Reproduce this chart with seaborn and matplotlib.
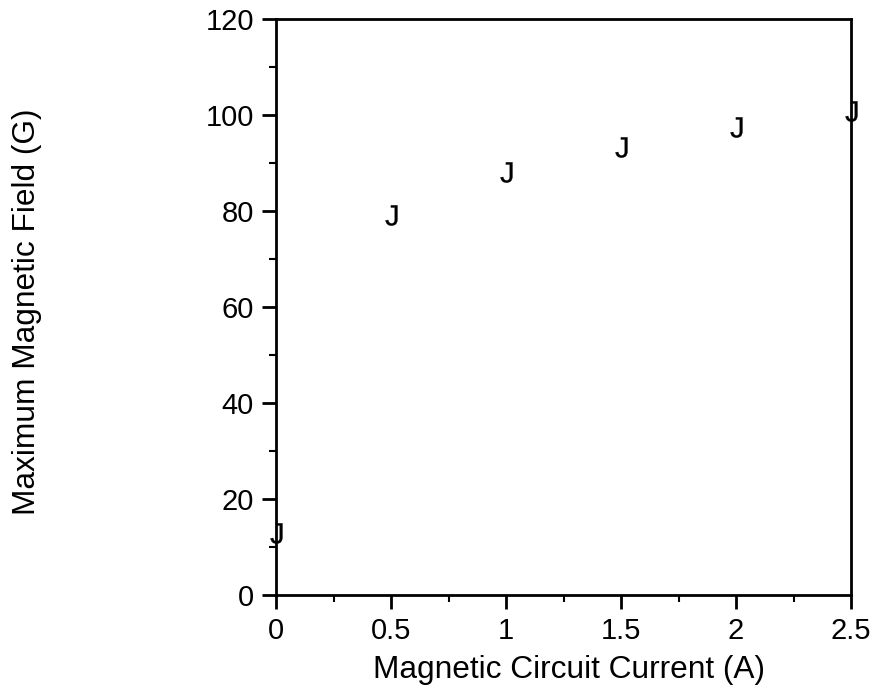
import matplotlib
matplotlib.use("Agg")
import matplotlib.pyplot as plt
import seaborn as sns
import pandas as pd
from matplotlib.ticker import MultipleLocator

current = [0.0, 0.5, 1.0, 1.5, 2.0, 2.5]
field = [12.9, 79.2, 88.2, 93.3, 97.5, 100.8]
x_ticks = [0, 0.5, 1, 1.5, 2, 2.5]
x_tick_labels = ["0", "0.5", "1", "1.5", "2", "2.5"]
y_ticks = [0, 20, 40, 60, 80, 100, 120]
y_tick_labels = ["0", "20", "40", "60", "80", "100", "120"]

sns.set_theme(style="white")
plt.rcParams['font.family'] = ['Liberation Sans', 'DejaVu Sans']
plt.rcParams['mathtext.fontset'] = 'custom'
plt.rcParams['mathtext.rm'] = 'Liberation Sans'

df = pd.DataFrame({"current": current, "field": field})

fig = plt.figure(figsize=(8.77, 6.91), dpi=100)
ax = fig.add_axes([276/877, 1-595/691, (851-276)/877, (595-19)/691])

sns.scatterplot(data=df, x="current", y="field", marker=r"$\mathrm{J}$",
                s=215, color="black", edgecolor="black", linewidth=0.2,
                ax=ax, clip_on=False, legend=False)

ax.set_xlim(0, 2.5)
ax.set_ylim(0, 120)
ax.set_xticks(x_ticks)
ax.set_xticklabels(x_tick_labels)
ax.set_yticks(y_ticks)
ax.set_yticklabels(y_tick_labels)
ax.xaxis.set_minor_locator(MultipleLocator(0.25))
ax.yaxis.set_minor_locator(MultipleLocator(10))

for s in ax.spines.values():
    s.set_color("black")
    s.set_linewidth(2)

ax.tick_params(axis="both", which="major", direction="out", length=10, width=2,
               color="black", labelsize=21, labelcolor="black", pad=6,
               bottom=True, left=True, top=False, right=False)
ax.tick_params(axis="both", which="minor", direction="out", length=5, width=1.5,
               color="black", bottom=True, left=True, top=False, right=False)

ax.set_xlabel("Magnetic Circuit Current (A)", fontsize=22.8, color="black")
ax.set_ylabel("Maximum Magnetic Field (G)", fontsize=22.8, color="black")
ax.yaxis.label.set_va("center")
ax.yaxis.set_label_coords(-(276-27)/575, (595-312)/576)
ax.xaxis.set_label_coords((569-276)/575, -(655-595)/576)
ax.grid(False)

fig.savefig("out.png", dpi=100, facecolor="white")
